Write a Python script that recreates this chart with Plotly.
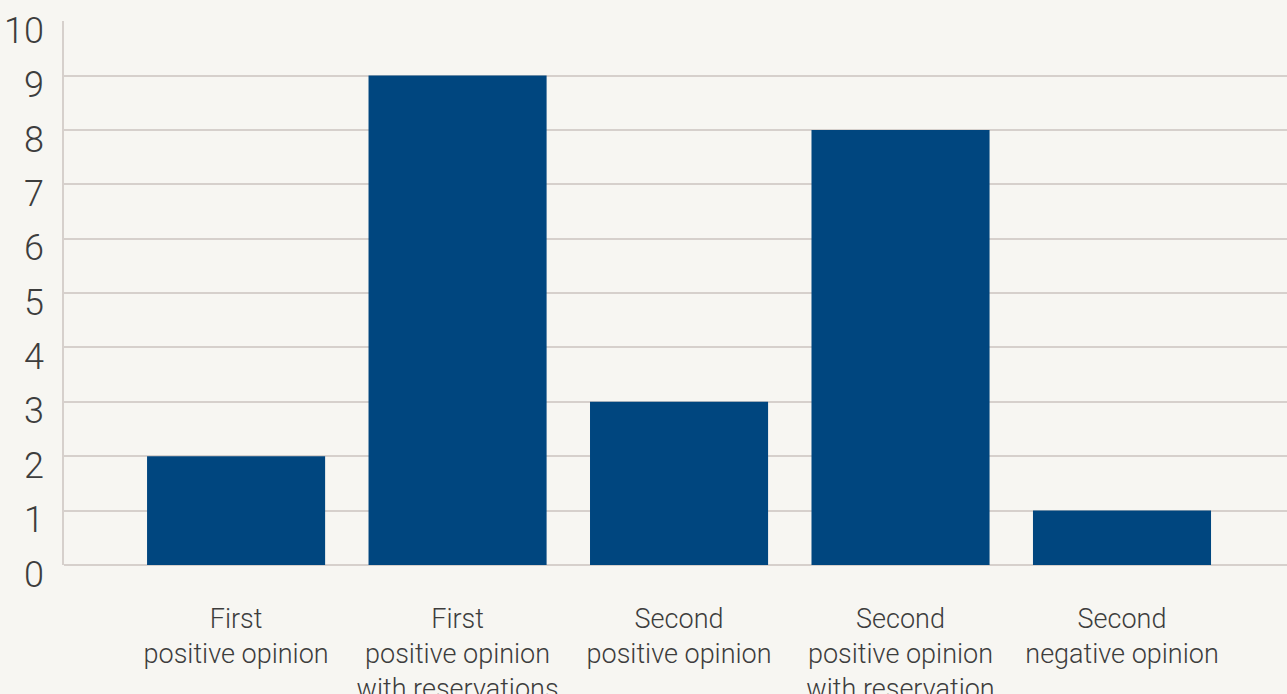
import plotly.graph_objects as go

categories = [
    "First<br>positive opinion",
    "First<br>positive opinion<br>with reservations",
    "Second<br>positive opinion",
    "Second<br>positive opinion<br>with reservation",
    "Second<br>negative opinion",
]
values = [2, 9, 3, 8, 1]
y_ticks = list(range(0, 11))

BG = "#f7f6f2"
BAR = "#00467f"
GRID = "#d6d0cc"
TEXT = "#3d3d3d"

fig = go.Figure(
    go.Bar(
        x=list(range(len(categories))),
        y=values,
        marker=dict(color=BAR, line=dict(width=0)),
        width=0.804,
        hoverinfo="skip",
    )
)

fig.update_layout(
    width=1287,
    height=694,
    margin=dict(l=64, r=0, t=21, b=129, autoexpand=False),
    paper_bgcolor=BG,
    plot_bgcolor=BG,
    showlegend=False,
    font=dict(family="Roboto", color=TEXT),
)

fig.update_xaxes(
    range=[-0.777, 4.745],
    tickmode="array",
    tickvals=list(range(len(categories))),
    ticktext=categories,
    tickfont=dict(size=27, family="Roboto", color=TEXT, weight=300),
    showgrid=False,
    zeroline=False,
    showline=False,
    ticks="",
    ticklabelstandoff=35,
    automargin=False,
)

fig.update_yaxes(
    range=[0, 10.003],
    tickmode="array",
    tickvals=y_ticks,
    ticktext=[str(v) for v in y_ticks],
    tickfont=dict(size=36, family="Roboto", color=TEXT, weight=300),
    showgrid=True,
    gridcolor=GRID,
    gridwidth=1.5,
    zeroline=True,
    zerolinecolor=GRID,
    zerolinewidth=1.5,
    showline=True,
    linecolor=GRID,
    linewidth=1.5,
    ticks="",
    ticklabelstandoff=11,
    ticklabelshift=9,
    automargin=False,
)

fig.write_html("out.html")
